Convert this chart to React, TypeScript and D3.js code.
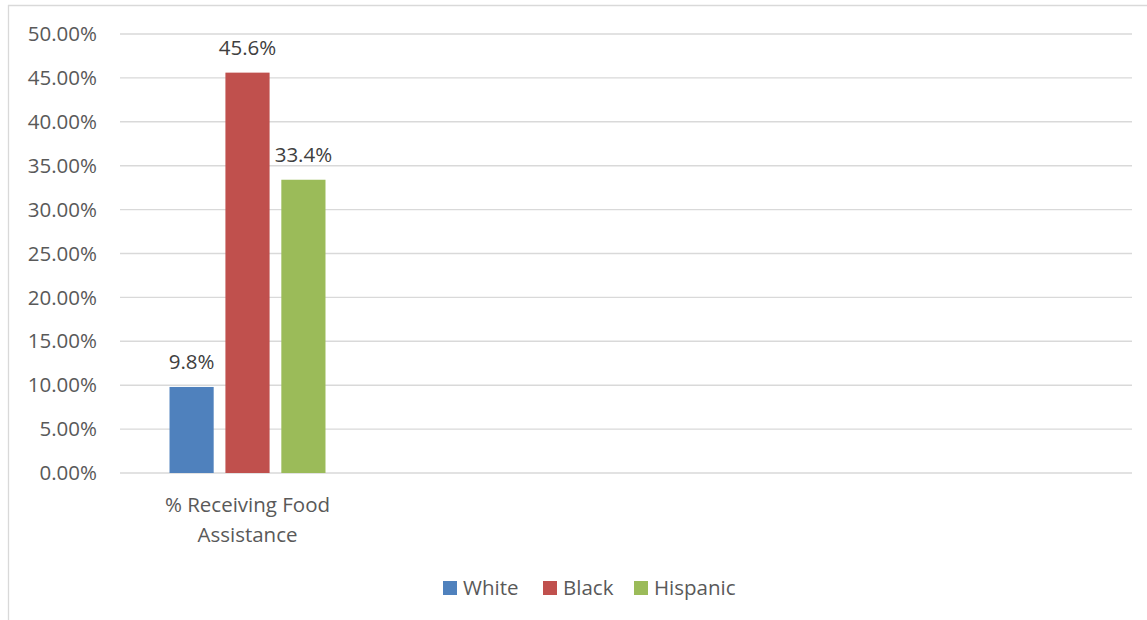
import React from "react";
import * as d3 from "d3";

const categories = ["% Receiving Food Assistance"];
const categoryLines = [["% Receiving Food", "Assistance"]];
const seriesNames = ["White", "Black", "Hispanic"];
const seriesValues = [[0.098], [0.456], [0.334]];
const dataLabels = ["9.8%", "45.6%", "33.4%"];
const yTicks = [0, 0.05, 0.1, 0.15, 0.2, 0.25, 0.3, 0.35, 0.4, 0.45, 0.5];
const colors = ["#4f81bd", "#c0504d", "#9bbb59"];

const W = 1147;
const H = 620;
const plotLeft = 120;
const plotRight = 1132;
const plotTop = 34;
const plotBottom = 473;
const slots = 4;
const font = "'Open Sans', sans-serif";
const textColor = "#595959";

export default function App() {
  const y = d3.scaleLinear().domain([0, 0.5]).range([plotBottom, plotTop]);
  const slotW = (plotRight - plotLeft) / slots;
  const x = d3
    .scaleBand<string>()
    .domain(categories)
    .range([plotLeft + 1, plotLeft + 1 + slotW])
    .paddingInner(0)
    .paddingOuter(0.311);
  const xs = d3
    .scaleBand<string>()
    .domain(seriesNames)
    .range([0, x.bandwidth()])
    .paddingInner(0.21)
    .paddingOuter(0);
  const fmt = d3.format(".2%");

  const legendItems = [
    { x: 443, tx: 463 },
    { x: 543, tx: 563 },
    { x: 634, tx: 654 },
  ];

  return (
    <svg
      width={W}
      height={H}
      style={{ position: "absolute", left: 0, top: 0, background: "#fff" }}
    >
      <line x1={8} x2={W} y1={5.5} y2={5.5} stroke="#d9d9d9" strokeWidth={1.3} />
      <line x1={8.5} x2={8.5} y1={5} y2={H} stroke="#d9d9d9" strokeWidth={1.3} />
      {yTicks.map((t) => (
        <g key={t}>
          <line
            x1={plotLeft}
            x2={plotRight}
            y1={y(t)}
            y2={y(t)}
            stroke="#d9d9d9"
            strokeWidth={1.4}
          />
          <text
            x={97}
            y={y(t)}
            dy="0.35em"
            textAnchor="end"
            fontFamily={font}
            fontSize={20.5}
            fill={textColor}
          >
            {fmt(t)}
          </text>
        </g>
      ))}
      {categories.map((c, ci) => (
        <g key={c}>
          {seriesNames.map((s, si) => {
            const v = seriesValues[si][ci];
            const bx = (x(c) ?? 0) + (xs(s) ?? 0);
            return (
              <g key={s}>
                <rect
                  x={bx}
                  y={y(v)}
                  width={xs.bandwidth()}
                  height={plotBottom - y(v)}
                  fill={colors[si]}
                />
                <text
                  x={bx + xs.bandwidth() / 2}
                  y={y(v) - 18}
                  textAnchor="middle"
                  fontFamily={font}
                  fontSize={20.5}
                  fill="#404040"
                >
                  {dataLabels[si]}
                </text>
              </g>
            );
          })}
          {categoryLines[ci].map((ln, li) => (
            <text
              key={li}
              x={(x(c) ?? 0) + x.bandwidth() / 2}
              y={512 + li * 30}
              textAnchor="middle"
              fontFamily={font}
              fontSize={20.5}
              fill={textColor}
            >
              {ln}
            </text>
          ))}
        </g>
      ))}
      {seriesNames.map((s, si) => (
        <g key={s}>
          <rect x={legendItems[si].x} y={581} width={14} height={14} fill={colors[si]} />
          <text
            x={legendItems[si].tx}
            y={588}
            dy="0.35em"
            fontFamily={font}
            fontSize={20.5}
            fill={textColor}
          >
            {s}
          </text>
        </g>
      ))}
    </svg>
  );
}
